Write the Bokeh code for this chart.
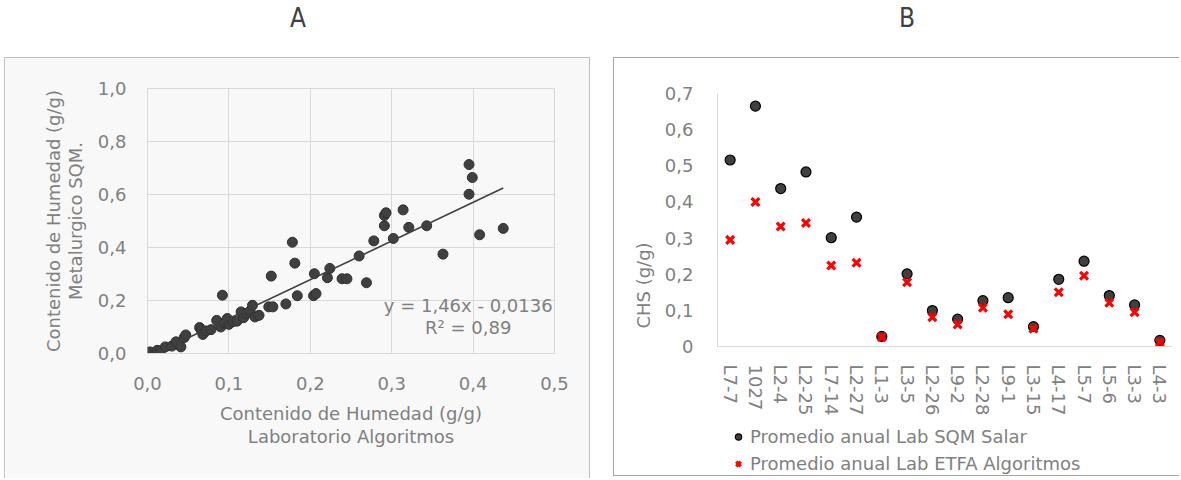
from bokeh.plotting import figure
from bokeh.models import (Range1d, FactorRange, FixedTicker, CustomJSTickFormatter,
                          Label, Legend, LegendItem, Div, Spacer)
from bokeh.layouts import row, column
from bokeh.embed import file_html
from bokeh.resources import INLINE

FONT = "DejaVu Sans"
TXT = "#808080"
GRID = "#d9d9d9"

# ---------------- Panel A data ----------------
lab_algoritmos = [0.003, 0.010, 0.012, 0.016, 0.022, 0.030, 0.035, 0.041, 0.045, 0.047,
                  0.064, 0.066, 0.068, 0.072, 0.078, 0.085, 0.090, 0.092, 0.095, 0.098,
                  0.100, 0.105, 0.110, 0.115, 0.118, 0.122, 0.126, 0.129, 0.132, 0.137,
                  0.149, 0.152, 0.154, 0.170, 0.178, 0.181, 0.184, 0.204, 0.207, 0.205,
                  0.221, 0.224, 0.239, 0.245, 0.260, 0.269, 0.278, 0.291, 0.291, 0.293,
                  0.302, 0.314, 0.321, 0.343, 0.363, 0.395, 0.399, 0.395, 0.408, 0.437]
sqm_metalurgico = [0.006, 0.000, 0.012, 0.010, 0.025, 0.028, 0.044, 0.025, 0.060, 0.070,
                   0.098, 0.088, 0.072, 0.085, 0.090, 0.125, 0.100, 0.220, 0.115, 0.132,
                   0.110, 0.120, 0.122, 0.157, 0.135, 0.151, 0.160, 0.182, 0.138, 0.144,
                   0.176, 0.292, 0.176, 0.187, 0.420, 0.341, 0.218, 0.218, 0.226, 0.301,
                   0.286, 0.321, 0.282, 0.282, 0.368, 0.267, 0.425, 0.482, 0.521, 0.531,
                   0.434, 0.542, 0.476, 0.482, 0.375, 0.601, 0.664, 0.713, 0.448, 0.472]
trend_slope = 1.46
trend_intercept = -0.0136
trend_x = [0.0, 0.437]
eq_label = "y = 1,46x - 0,0136"
r2_label = "R² = 0,89"
a_xticks = [0.0, 0.1, 0.2, 0.3, 0.4, 0.5]
a_yticks = [0.0, 0.2, 0.4, 0.6, 0.8, 1.0]

# ---------------- Panel B data ----------------
pozos = ["L7-7", "1027", "L2-4", "L2-25", "L7-14", "L2-27", "L1-3", "L3-5", "L2-26",
         "L9-2", "L2-28", "L9-1", "L3-15", "L4-17", "L5-7", "L5-6", "L3-3", "L4-3"]
sqm_salar = [0.516, 0.665, 0.437, 0.483, 0.301, 0.358, 0.028, 0.201, 0.0995,
             0.0755, 0.127, 0.135, 0.055, 0.186, 0.236, 0.141, 0.115, 0.017]
etfa_algoritmos = [0.295, 0.400, 0.332, 0.342, 0.224, 0.232, 0.026, 0.178, 0.081,
                   0.061, 0.107, 0.089, 0.049, 0.150, 0.196, 0.121, 0.095, 0.012]
b_yticks = [0.0, 0.1, 0.2, 0.3, 0.4, 0.5, 0.6, 0.7]


def style_axis(ax):
    ax.major_tick_line_color = None
    ax.minor_tick_line_color = None
    ax.major_label_text_font = FONT
    ax.major_label_text_font_size = "18px"
    ax.major_label_text_color = TXT
    ax.axis_label_text_font = FONT
    ax.axis_label_text_font_size = "18px"
    ax.axis_label_text_color = TXT
    ax.axis_label_text_font_style = "normal"
    ax.axis_line_color = GRID


# ---------------- Figure A ----------------
pA = figure(width=586, height=421, x_range=Range1d(0, 0.5), y_range=Range1d(0, 1.0),
            output_backend="svg", toolbar_location=None,
            min_border_left=142, min_border_right=37, min_border_top=30, min_border_bottom=126,
            background_fill_color="#f8f8f8", border_fill_color="#f8f8f8",
            outline_line_color=GRID,
            styles={"border-top": "1px solid #bfbfbf", "border-left": "1px solid #bfbfbf",
                    "border-right": "1px solid #bfbfbf"})
for ax in pA.axis:
    style_axis(ax)
fmt1 = CustomJSTickFormatter(code="return tick.toFixed(1).replace('.', ',');")
xtA = FixedTicker(ticks=a_xticks)
ytA = FixedTicker(ticks=a_yticks)
pA.xaxis.ticker = xtA
pA.yaxis.ticker = ytA
pA.xgrid.ticker = xtA
pA.ygrid.ticker = ytA
pA.xaxis.formatter = fmt1
pA.yaxis.formatter = fmt1
pA.yaxis.axis_line_color = None
pA.xaxis.major_label_standoff = 17
pA.yaxis.major_label_standoff = 15
pA.xaxis.axis_label = "Contenido de Humedad (g/g)\nLaboratorio Algoritmos"
pA.yaxis.axis_label = "Contenido de Humedad (g/g)\nMetalurgico SQM."
pA.xaxis.axis_label_standoff = 10
pA.yaxis.axis_label_standoff = 9
pA.xaxis.axis_label_text_line_height = 1.12
pA.yaxis.axis_label_text_line_height = 1.05
pA.grid.grid_line_color = GRID

pA.scatter(lab_algoritmos, sqm_metalurgico, size=10, fill_color="#404040",
           line_color="#303030", line_width=1)
trend_y = [trend_slope * x + trend_intercept for x in trend_x]
pA.line(trend_x, trend_y, line_color="#404040", line_width=1.6)

for txt, yy in ((eq_label, 0.182), (r2_label, 0.099)):
    pA.add_layout(Label(x=0.394, y=yy, text=txt, text_align="center", text_baseline="middle",
                        text_font=FONT, text_font_size="18px", text_color=TXT))

# ---------------- Figure B ----------------
# frame runs to the panel bottom so the legend (drawn inside the frame) is not clipped;
# the category axis is pinned at CHS = 0.
pB = figure(width=566, height=419, x_range=FactorRange(factors=pozos),
            y_range=Range1d(-0.3624, 0.7),
            output_backend="svg", toolbar_location=None,
            min_border_left=103, min_border_right=8, min_border_top=35, min_border_bottom=0,
            background_fill_color="white", border_fill_color="white",
            outline_line_color=None,
            styles={"border-top": "1px solid #a6a6a6", "border-left": "1px solid #a6a6a6",
                    "border-bottom": "1px solid #a6a6a6"})
for ax in pB.axis:
    style_axis(ax)
pB.xgrid.visible = False
pB.ygrid.visible = False
pB.yaxis.ticker = FixedTicker(ticks=b_yticks)
pB.yaxis.bounds = (0, 0.7)
pB.yaxis.formatter = CustomJSTickFormatter(
    code="return Math.abs(tick) < 1e-9 ? '0' : tick.toFixed(1).replace('.', ',');")
pB.yaxis.major_label_standoff = 18
pB.yaxis.axis_label = "CHS (g/g)"
pB.yaxis.axis_label_standoff = 8
pB.xaxis.fixed_location = 0
pB.xaxis.major_label_orientation = "vertical"
pB.xaxis.major_label_standoff = 12

r1 = pB.scatter(pozos, sqm_salar, size=10, fill_color="#404040", line_color="#000000",
                line_width=1.2)
r2 = pB.scatter(pozos, etfa_algoritmos, marker="x", size=11, line_color="#ff0000",
                line_width=3.2)

legend = Legend(items=[LegendItem(label="Promedio anual Lab SQM Salar", renderers=[r1]),
                       LegendItem(label="Promedio anual Lab ETFA Algoritmos", renderers=[r2])],
                location=(13, 3.5), orientation="vertical",
                border_line_color=None, background_fill_alpha=0,
                padding=0, margin=0, spacing=6, label_height=21, glyph_height=21,
                glyph_width=16, label_standoff=4,
                label_text_font=FONT, label_text_font_size="18px", label_text_color=TXT)
pB.add_layout(legend)

# ---------------- Titles & layout ----------------
title_style = {"text-align": "center",
               "font-family": "'Liberation Sans Narrow','DejaVu Sans Condensed',sans-serif",
               "font-size": "26px", "line-height": "36px", "color": "#404040"}
divA = Div(text="A", width=588, height=57, margin=0, styles=dict(title_style))
stB = dict(title_style)
stB["text-indent"] = "21px"
divB = Div(text="B", width=567, height=57, margin=0, styles=stB)

layout = row(Spacer(width=4, height=10), column(divA, pA), Spacer(width=21, height=10),
             column(divB, pB), spacing=0)

open("out.html", "w").write(file_html(layout, INLINE, title="Chart"))
